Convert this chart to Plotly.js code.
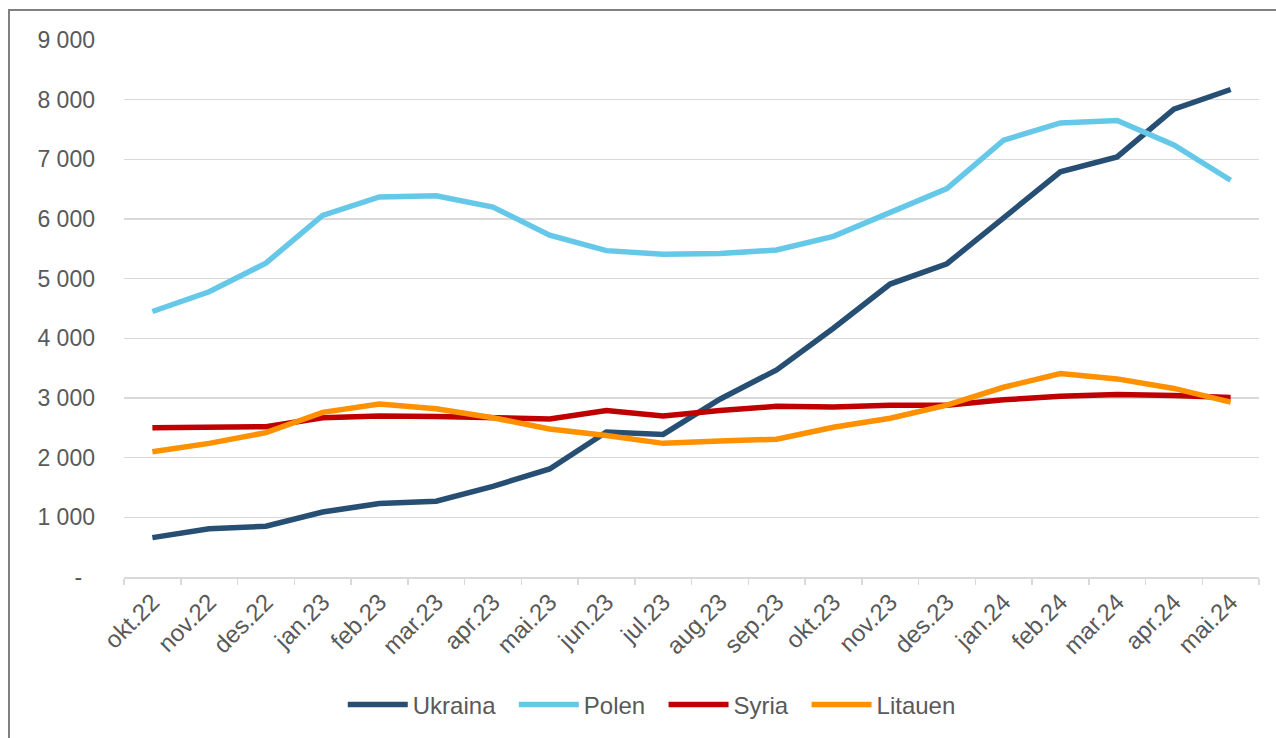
<!DOCTYPE html>
<html>
<head>
<meta charset="utf-8">
<script src="https://cdn.plot.ly/plotly-3.0.1.min.js"></script>
<style>
  html, body { margin: 0; padding: 0; background: #fff; }
  #wrap { position: relative; width: 1276px; height: 738px; overflow: hidden; }
  #frame { position: absolute; left: 8px; top: 9px; width: 1300px; height: 760px;
           border-top: 2px solid #808080; border-left: 2px solid #808080; pointer-events: none; }
  #chart { position: absolute; left: 0; top: 0; width: 1276px; height: 738px; }
</style>
</head>
<body>
<div id="wrap">
  <div id="chart"></div>
  <div id="frame"></div>
</div>
<script>
const months = ["okt.22","nov.22","des.22","jan.23","feb.23","mar.23","apr.23","mai.23","jun.23","jul.23",
                "aug.23","sep.23","okt.23","nov.23","des.23","jan.24","feb.24","mar.24","apr.24","mai.24"];
const ukraina = [660, 810, 850, 1090, 1230, 1270, 1520, 1810, 2430, 2390, 2980, 3470, 4170, 4910, 5250, 6030, 6790, 7040, 7840, 8170];
const polen   = [4450, 4780, 5260, 6060, 6370, 6390, 6200, 5730, 5470, 5410, 5420, 5480, 5710, 6110, 6510, 7320, 7610, 7650, 7240, 6650];
const syria   = [2500, 2520, 2520, 2670, 2700, 2690, 2680, 2650, 2790, 2700, 2790, 2860, 2850, 2880, 2880, 2970, 3030, 3060, 3040, 3010];
const litauen = [2100, 2240, 2420, 2760, 2900, 2820, 2670, 2480, 2370, 2240, 2280, 2310, 2510, 2660, 2880, 3180, 3410, 3320, 3160, 2930];
const yTickVals = [0, 1000, 2000, 3000, 4000, 5000, 6000, 7000, 8000, 9000];
const yTickText = ["-\u00a0\u00a0", "1 000", "2 000", "3 000", "4 000", "5 000", "6 000", "7 000", "8 000", "9 000"];

const names = ["Ukraina", "Polen", "Syria", "Litauen"];
const series = [ukraina, polen, syria, litauen];
const colors = ["#264F73", "#65C8E8", "#C00000", "#FF9000"];

const traces = series.map((s, i) => ({
  type: "scatter", mode: "lines",
  name: names[i] + (i < names.length - 1 ? "\u00a0\u00a0" : ""),
  x: months, y: s,
  line: { color: colors[i], width: 5.5 }, hoverinfo: "x+y"
}));

const layout = {
  width: 1276, height: 738,
  margin: { l: 124, r: 17, t: 40, b: 160 },
  paper_bgcolor: "#ffffff", plot_bgcolor: "#ffffff",
  font: { family: "Liberation Sans, Arial, sans-serif", color: "#595959", size: 23 },
  showlegend: true,
  legend: {
    orientation: "h", x: 0.465, xanchor: "center", y: -0.236, yanchor: "middle",
    font: { size: 24, color: "#595959" }, itemwidth: 60, traceorder: "normal"
  },
  xaxis: {
    type: "category", showgrid: false, showline: true, linecolor: "#D9D9D9", linewidth: 1.5,
    ticks: "outside", tickson: "boundaries", ticklen: 6, tickcolor: "#D9D9D9", tickwidth: 1.5,
    tickangle: -45, tickfont: { size: 24, color: "#595959" }, zeroline: false,
    range: [-0.5, 19.5]
  },
  yaxis: {
    range: [0, 9000], tickvals: yTickVals, ticktext: yTickText,
    showgrid: true, gridcolor: "#D9D9D9", gridwidth: 1.5, zeroline: false, showline: false,
    ticks: "", ticklabelstandoff: 28, tickfont: { size: 23, color: "#595959" }
  }
};

Plotly.newPlot("chart", traces, layout, { displayModeBar: false, staticPlot: true });
</script>
</body>
</html>
